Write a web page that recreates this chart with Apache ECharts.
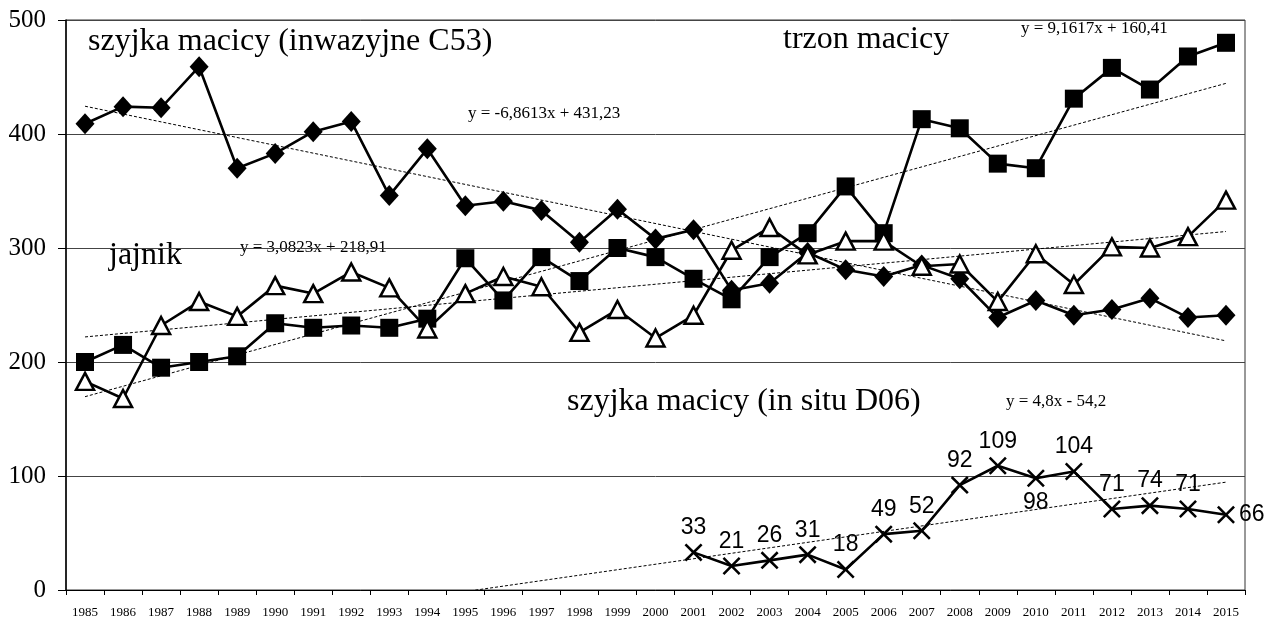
<!DOCTYPE html>
<html>
<head>
<meta charset="utf-8">
<script src="https://cdn.jsdelivr.net/npm/echarts@6/dist/echarts.min.js"></script>
<style>
  html, body { margin: 0; padding: 0; background: #fff; }
  #chart { width: 1283px; height: 623px; }
</style>
</head>
<body>
<div id="chart"></div>
<script>
const years = [];
for (let y = 1985; y <= 2015; y++) years.push(String(y));

// szyjka macicy (inwazyjne C53)
const cervixC53 = [409, 424, 423, 459, 370, 383, 402, 411, 346, 387,
    337, 341, 333, 305, 334, 308, 316, 263, 269, 296,
    281, 275, 285, 273, 239, 254, 241, 246, 256, 239, 241];
// trzon macicy
const corpus = [200, 215, 195, 200, 205, 234, 230, 232, 230, 238,
    291, 254, 292, 271, 300, 292, 273, 255, 292, 313,
    354, 313, 413, 405, 374, 370, 431, 458, 439, 468, 480];
// jajnik
const ovary = [183, 168, 232, 253, 240, 267, 260, 279, 265, 229,
    260, 275, 266, 226, 246, 221, 241, 298, 318, 294,
    306, 306, 284, 286, 253, 295, 268, 301, 300, 310, 342];
// szyjka macicy (in situ D06), 2001-2015
const inSituYears = ['2001', '2002', '2003', '2004', '2005', '2006', '2007', '2008',
    '2009', '2010', '2011', '2012', '2013', '2014', '2015'];
const inSitu = [33, 21, 26, 31, 18, 49, 52, 92, 109, 98, 104, 71, 74, 71, 66];

// trend lines: [slope, intercept], x = year index from 1985 (1-based)
const trendC53 = [-6.8613, 431.23];
const trendCorpus = [9.1617, 160.41];
const trendOvary = [3.0823, 218.91];
const trendInSitu = [4.8, -54.2];

const yTicks = [0, 100, 200, 300, 400, 500];

const serif = 'Liberation Serif';
const sans = 'Liberation Sans';

function trendData(coef, fromIdx, toIdx) {
    return [fromIdx, toIdx].map(i => [years[i], coef[0] * (i + 1) + coef[1]]);
}

function trendSeries(coef, fromIdx) {
    return {
        type: 'line',
        data: trendData(coef, fromIdx, years.length - 1),
        symbol: 'none',
        silent: true,
        z: 1,
        lineStyle: { color: '#000', width: 1, type: [3, 2] }
    };
}

const xMark = 'path://M0,10L10,0L50,40L90,0L100,10L60,50L100,90L90,100L50,60L10,100L0,90L40,50Z';

const labelPos = { '2010': 'bottom', '2015': 'right' };

let myChart = echarts.init(document.getElementById('chart'));
let option = {
    animation: false,
    backgroundColor: '#fff',
    grid: {
        left: 66, right: 38, top: 20, bottom: 33,
        show: true, borderColor: '#333', borderWidth: 1
    },
    xAxis: {
        type: 'category',
        data: years,
        boundaryGap: true,
        axisLine: { lineStyle: { color: '#000', width: 1 } },
        axisTick: { show: true, length: 5, lineStyle: { color: '#000' } },
        axisLabel: { interval: 0, color: '#000', fontFamily: serif, fontSize: 13, margin: 16 },
        splitLine: { show: false }
    },
    yAxis: {
        type: 'value',
        min: yTicks[0],
        max: yTicks[yTicks.length - 1],
        interval: 100,
        axisLine: { show: true, lineStyle: { color: '#000', width: 1.5 } },
        axisTick: { show: true, length: 8, lineStyle: { color: '#000' } },
        axisLabel: { color: '#000', fontFamily: serif, fontSize: 25, margin: 20 },
        splitLine: { show: true, lineStyle: { color: '#444', width: 1 } }
    },
    series: [
        trendSeries(trendC53, 0),
        trendSeries(trendCorpus, 0),
        trendSeries(trendOvary, 0),
        trendSeries(trendInSitu, 10),
        {
            name: 'szyjka macicy (inwazyjne C53)',
            type: 'line',
            data: cervixC53,
            symbol: 'diamond',
            symbolSize: [19, 21],
            z: 3,
            lineStyle: { color: '#000', width: 2.6 },
            itemStyle: { color: '#000' }
        },
        {
            name: 'trzon macicy',
            type: 'line',
            data: corpus,
            symbol: 'rect',
            symbolSize: 18,
            z: 3,
            lineStyle: { color: '#000', width: 2.6 },
            itemStyle: { color: '#000' }
        },
        {
            name: 'jajnik',
            type: 'line',
            data: ovary,
            symbol: 'triangle',
            symbolSize: [18, 17],
            z: 4,
            lineStyle: { color: '#000', width: 2.6 },
            itemStyle: { color: '#fff', borderColor: '#000', borderWidth: 2.5 }
        },
        {
            name: 'szyjka macicy (in situ D06)',
            type: 'line',
            data: inSituYears.map((y, i) => {
                let item = { value: [y, inSitu[i]] };
                if (labelPos[y]) item.label = { position: labelPos[y] };
                return item;
            }),
            symbol: xMark,
            symbolSize: 18,
            z: 3,
            lineStyle: { color: '#000', width: 2.6 },
            itemStyle: { color: '#000' },
            label: {
                show: true,
                position: 'top',
                distance: 4,
                color: '#000',
                fontFamily: sans,
                fontSize: 23,
                formatter: p => p.value[1]
            }
        }
    ],
    graphic: [
        { type: 'text', left: 88, top: 26, style: { text: 'szyjka macicy (inwazyjne C53)', font: '32px "Liberation Serif"', fill: '#000' } },
        { type: 'text', left: 783, top: 24, style: { text: 'trzon macicy', font: '32px "Liberation Serif"', fill: '#000' } },
        { type: 'text', left: 109, top: 240, style: { text: 'jajnik', font: '32px "Liberation Serif"', fill: '#000' } },
        { type: 'text', left: 567, top: 386, style: { text: 'szyjka macicy (in situ D06)', font: '32px "Liberation Serif"', fill: '#000' } },
        { type: 'text', left: 468, top: 105, style: { text: 'y = -6,8613x + 431,23', font: '17px "Liberation Serif"', fill: '#000' } },
        { type: 'text', left: 240, top: 239, style: { text: 'y = 3,0823x + 218,91', font: '17px "Liberation Serif"', fill: '#000' } },
        { type: 'text', left: 1021, top: 20, style: { text: 'y = 9,1617x + 160,41', font: '17px "Liberation Serif"', fill: '#000' } },
        { type: 'text', left: 1006, top: 393, style: { text: 'y = 4,8x - 54,2', font: '17px "Liberation Serif"', fill: '#000' } }
    ]
};
myChart.setOption(option);
</script>
</body>
</html>
